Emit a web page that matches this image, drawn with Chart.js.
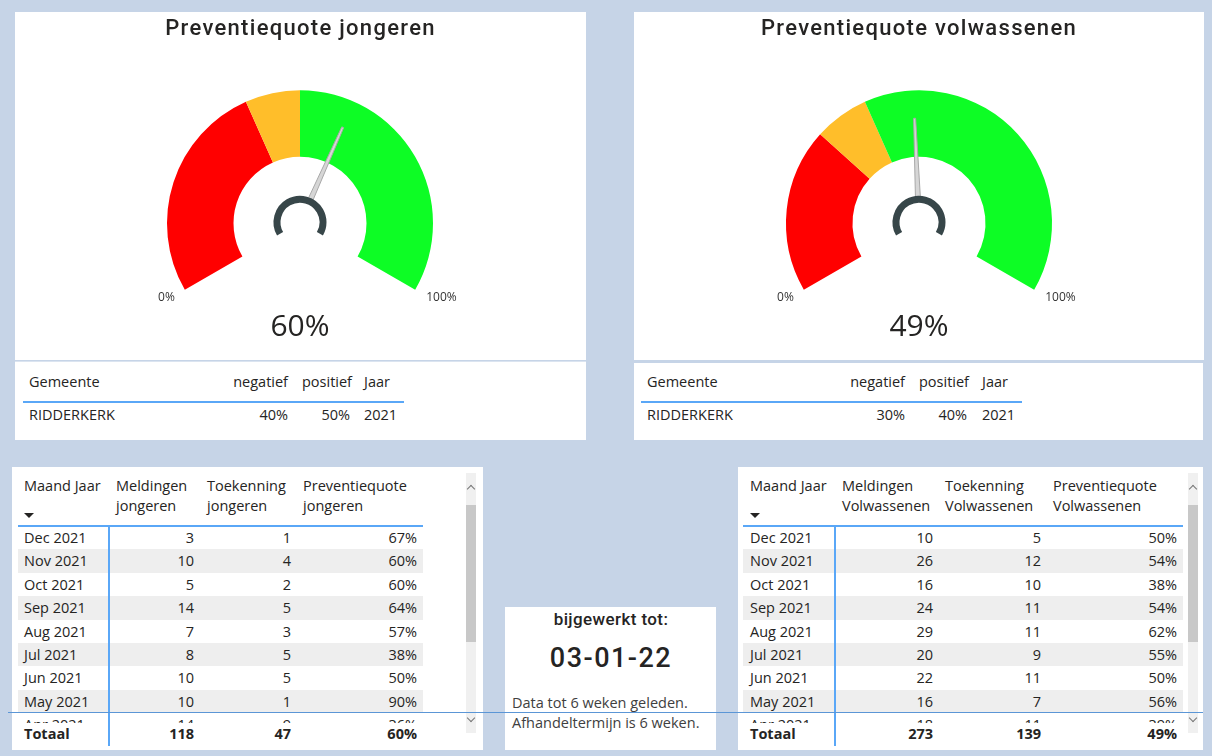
<!DOCTYPE html>
<html>
<head>
<meta charset="utf-8">
<script src="https://cdn.jsdelivr.net/npm/chart.js@4/dist/chart.umd.min.js"></script>
<style>
  html, body { margin: 0; padding: 0; }
  body { width: 1212px; height: 756px; background: #c6d4e7; position: relative; overflow: hidden;
         font-family: "Open Sans", "Noto Sans", sans-serif; color: #252423; }
  .panel { position: absolute; background: #fff; }
  .t { position: absolute; white-space: nowrap; }
  .ln { position: absolute; }
</style>
</head>
<body>
<script>
// ---- data ----
const gaugeTitles = ['Preventiequote jongeren', 'Preventiequote volwassenen'];
const gaugeValues = [60, 49];
const negatiefValues = [40, 30];
const positiefValues = [50, 40];
const gemeente = 'RIDDERKERK';
const jaar = '2021';

const maanden = ['Dec 2021', 'Nov 2021', 'Oct 2021', 'Sep 2021', 'Aug 2021', 'Jul 2021', 'Jun 2021', 'May 2021', 'Apr 2021'];
const meldingenJongeren = [3, 10, 5, 14, 7, 8, 10, 10, 14];
const toekenningJongeren = [1, 4, 2, 5, 3, 5, 5, 1, 9];
const quoteJongeren = [67, 60, 60, 64, 57, 38, 50, 90, 36];
const totaalJongeren = [118, 47, 60];

const meldingenVolwassenen = [10, 26, 16, 24, 29, 20, 22, 16, 18];
const toekenningVolwassenen = [5, 12, 10, 11, 11, 9, 11, 7, 11];
const quoteVolwassenen = [50, 54, 38, 54, 62, 55, 50, 56, 39];
const totaalVolwassenen = [273, 139, 49];

const gaugeColors = ['#ff0000', '#ffbe2a', '#0dfd25'];

// ---- helpers ----
function panel(x, y, w, h) {
  const d = document.createElement('div');
  d.className = 'panel';
  Object.assign(d.style, { left: x + 'px', top: y + 'px', width: w + 'px', height: h + 'px' });
  document.body.appendChild(d);
  return d;
}
function line(x, y, w, h, color, z) {
  const d = document.createElement('div');
  d.className = 'ln';
  Object.assign(d.style, { left: x + 'px', top: y + 'px', width: w + 'px', height: h + 'px', background: color, zIndex: z || 2 });
  document.body.appendChild(d);
  return d;
}
function txt(x, y, s, o) {
  o = o || {};
  const size = o.size || 14.5, lh = Math.round(size * 1.4);
  const d = document.createElement('div');
  d.className = 't';
  d.textContent = s;
  let left = x, width = null;
  if (o.align === 'right') { left = x - 300; width = 300; }
  if (o.align === 'center') { left = x - 300; width = 600; }
  Object.assign(d.style, {
    left: left + 'px', top: (y - lh / 2) + 'px', fontSize: size + 'px', lineHeight: lh + 'px',
    fontWeight: o.weight || 400, color: o.color || '#252423', textAlign: o.align || 'left',
    letterSpacing: o.ls || 'normal', zIndex: 3
  });
  if (o.family) d.style.fontFamily = o.family;
  if (width) d.style.width = width + 'px';
  (o.parent || document.body).appendChild(d);
  return d;
}
function chevron(x, y, up) {
  const d = document.createElement('div');
  Object.assign(d.style, {
    position: 'absolute', left: (x - 3) + 'px', top: (y - 3) + 'px', width: '5px', height: '5px',
    borderLeft: '1px solid #777', borderTop: '1px solid #777', zIndex: 3,
    transform: up ? 'rotate(45deg)' : 'rotate(225deg)'
  });
  document.body.appendChild(d);
}

// ---- gauges ----
const gaugePlugin = {
  id: 'gauge',
  afterDraw(chart, args, opts) {
    const arc = chart.getDatasetMeta(0).data[0];
    const cx = arc.x, cy = arc.y, R = arc.outerRadius;
    const ctx = chart.ctx;
    ctx.save();
    // title
    ctx.fillStyle = '#252423';
    ctx.textAlign = 'center';
    ctx.textBaseline = 'middle';
    ctx.font = '500 22px Roboto';
    if ('letterSpacing' in ctx) ctx.letterSpacing = '1.3px';
    ctx.fillText(opts.title, chart.width / 2, 17);
    if ('letterSpacing' in ctx) ctx.letterSpacing = '0px';
    // min / max labels
    ctx.font = '12px "Open Sans"';
    ctx.fillStyle = '#333';
    ctx.textAlign = 'right';
    ctx.fillText('0%', cx - R * Math.cos(Math.PI / 6) - 10, cy + R * 0.5 + 8);
    ctx.textAlign = 'left';
    ctx.fillText('100%', cx + R * Math.cos(Math.PI / 6) + 11, cy + R * 0.5 + 8);
    // value
    ctx.textAlign = 'center';
    ctx.fillStyle = '#252423';
    ctx.font = '30px "Open Sans"';
    ctx.fillText(opts.value + '%', cx, cy + 104);
    // needle
    const a = (150 + 2.4 * opts.value) * Math.PI / 180;
    const px = -Math.sin(a), py = Math.cos(a);
    const r0 = 25, r1 = R * 0.79;
    ctx.beginPath();
    ctx.moveTo(cx + Math.cos(a) * r0 + px * 2.5, cy + Math.sin(a) * r0 + py * 2.5);
    ctx.lineTo(cx + Math.cos(a) * r1 + px * 1, cy + Math.sin(a) * r1 + py * 1);
    ctx.lineTo(cx + Math.cos(a) * r1 - px * 1, cy + Math.sin(a) * r1 - py * 1);
    ctx.lineTo(cx + Math.cos(a) * r0 - px * 2.5, cy + Math.sin(a) * r0 - py * 2.5);
    ctx.closePath();
    ctx.fillStyle = '#d6d6d6';
    ctx.fill();
    ctx.strokeStyle = '#a8a8a8';
    ctx.lineWidth = 1;
    ctx.stroke();
    // hub
    ctx.beginPath();
    ctx.arc(cx, cy - 1, 23, 150 * Math.PI / 180, 390 * Math.PI / 180);
    ctx.strokeStyle = '#374649';
    ctx.lineWidth = 7;
    ctx.stroke();
    ctx.restore();
  }
};

function gauge(x, y, w, h, i) {
  const p = panel(x, y, w, h);
  const c = document.createElement('canvas');
  p.appendChild(c);
  new Chart(c.getContext('2d'), {
    type: 'doughnut',
    data: {
      labels: ['negatief', 'neutraal', 'positief'],
      datasets: [{
        data: [negatiefValues[i], positiefValues[i] - negatiefValues[i], 100 - positiefValues[i]],
        backgroundColor: gaugeColors,
        borderWidth: 0
      }]
    },
    options: {
      responsive: true,
      maintainAspectRatio: false,
      animation: false,
      events: [],
      rotation: -120,
      circumference: 240,
      cutout: '50%',
      layout: { padding: { left: 152, right: w - 152 - 266, top: 78, bottom: h - 78 - 200 } },
      plugins: {
        legend: { display: false },
        tooltip: { enabled: false },
        gauge: { title: gaugeTitles[i], value: gaugeValues[i] }
      }
    },
    plugins: [gaugePlugin]
  });
}

gauge(15, 12, 571, 348, 0);
gauge(634, 12, 570, 348, 1);

// ---- small tables under the gauges ----
function smallTable(px, py, pw, ph, x0, x1, negR, posR, jaarL, i) {
  panel(px, py, pw, ph);
  txt(x0 + 6, 382, 'Gemeente');
  txt(negR, 382, 'negatief', { align: 'right' });
  txt(posR, 382, 'positief', { align: 'right' });
  txt(jaarL, 382, 'Jaar');
  line(x0, 401, x1 - x0, 2, '#5aa7f7');
  txt(x0 + 6, 415, gemeente);
  txt(negR, 415, negatiefValues[i] + '%', { align: 'right' });
  txt(posR - 2, 415, positiefValues[i] + '%', { align: 'right' });
  txt(jaarL, 415, jaar);
}
panel(15, 361, 571, 1).style.background = '#dbe4f0';
smallTable(15, 362, 571, 78, 23, 404, 288, 352, 364, 0);
smallTable(634, 363, 569, 77, 641, 1022, 905, 969, 982, 1);

// ---- month tables ----
function monthTable(cfg, heads, rows, totals) {
  panel(cfg.px, 467, cfg.pw, 283);
  const rowTop = 526, rowH = 23.4;
  // header
  txt(cfg.lefts[0], 486, 'Maand Jaar');
  for (let k = 1; k < 4; k++) {
    txt(cfg.lefts[k], 486, heads[k - 1][0]);
    txt(cfg.lefts[k], 506, heads[k - 1][1]);
  }
  const arrow = document.createElement('div');
  Object.assign(arrow.style, {
    position: 'absolute', left: cfg.lefts[0] + 'px', top: '513px', width: 0, height: 0,
    borderLeft: '5px solid transparent', borderRight: '5px solid transparent', borderTop: '5px solid #252423'
  });
  document.body.appendChild(arrow);
  // body clip
  const clip = document.createElement('div');
  Object.assign(clip.style, { position: 'absolute', left: cfg.tl + 'px', top: rowTop + 'px',
    width: (cfg.tr - cfg.tl) + 'px', height: '197px', overflow: 'hidden', zIndex: 1 });
  document.body.appendChild(clip);
  for (let r = 0; r < rows[0].length; r++) {
    const y = r * rowH;
    if (r % 2 === 1) {
      const bg = document.createElement('div');
      Object.assign(bg.style, { position: 'absolute', left: 0, top: y + 'px', width: '100%', height: rowH + 'px', background: '#eeeeee' });
      clip.appendChild(bg);
    }
    const cy = y + 12;
    txt(cfg.lefts[0] - cfg.tl, cy, maanden[r], { parent: clip });
    txt(cfg.rights[0] - cfg.tl, cy, String(rows[0][r]), { align: 'right', parent: clip });
    txt(cfg.rights[1] - cfg.tl, cy, String(rows[1][r]), { align: 'right', parent: clip });
    txt(cfg.rights[2] - cfg.tl, cy, rows[2][r] + '%', { align: 'right', parent: clip });
  }
  // totals
  txt(cfg.lefts[0], 734, 'Totaal', { weight: 700 });
  txt(cfg.rights[0], 734, String(totals[0]), { align: 'right', weight: 700 });
  txt(cfg.rights[1], 734, String(totals[1]), { align: 'right', weight: 700 });
  txt(cfg.rights[2], 734, totals[2] + '%', { align: 'right', weight: 700 });
  // grid lines
  line(cfg.tl, 525, cfg.tr - cfg.tl, 2, '#5aa7f7');
  line(cfg.sep, 526, 2, 220, '#5aa7f7');
  // scrollbar
  line(cfg.sb, 473, 10, 260, '#f0f0f0', 2);
  line(cfg.sb, 505, 10, 137, '#c8c8c8', 2);
  chevron(cfg.sb + 5, 489, true);
  chevron(cfg.sb + 5, 718, false);
}

monthTable({ px: 12, pw: 471, tl: 18, tr: 423, sep: 108, sb: 466,
             lefts: [24, 116, 207, 303], rights: [194, 291, 417] },
  [['Meldingen', 'jongeren'], ['Toekenning', 'jongeren'], ['Preventiequote', 'jongeren']],
  [meldingenJongeren, toekenningJongeren, quoteJongeren], totaalJongeren);

monthTable({ px: 738, pw: 465, tl: 743, tr: 1183, sep: 834, sb: 1188,
             lefts: [750, 842, 945, 1053], rights: [933, 1041, 1177] },
  [['Meldingen', 'Volwassenen'], ['Toekenning', 'Volwassenen'], ['Preventiequote', 'Volwassenen']],
  [meldingenVolwassenen, toekenningVolwassenen, quoteVolwassenen], totaalVolwassenen);

// ---- update box ----
panel(505, 607, 211, 143);
txt(611, 619, 'bijgewerkt tot:', { align: 'center', size: 17, weight: 500, family: 'Roboto', ls: '0.4px' });
txt(611, 658, '03-01-22', { align: 'center', size: 27, weight: 500, family: 'Roboto', ls: '1.5px' });
txt(512, 703, 'Data tot 6 weken geleden.', { color: '#404040' });
txt(512, 723, 'Afhandeltermijn is 6 weken.', { color: '#404040' });

// overlay line
line(8, 712, 1195, 1, '#5b96d6', 10);
</script>
</body>
</html>
